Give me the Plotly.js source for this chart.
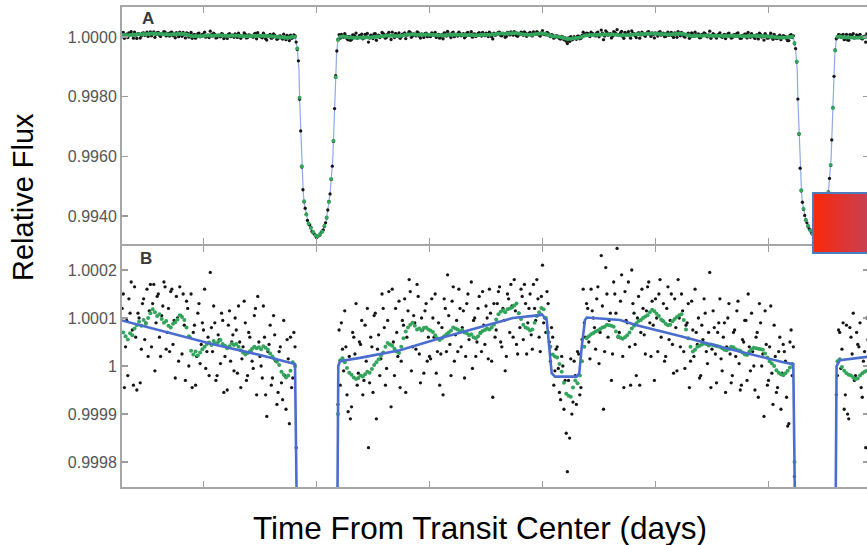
<!DOCTYPE html>
<html>
<head>
<meta charset="utf-8">
<script src="https://cdn.plot.ly/plotly-3.0.1.min.js"></script>
<style>
  html, body { margin: 0; padding: 0; overflow: hidden; background: #fff; }
  #chart { width: 869px; height: 545px; }
</style>
</head>
<body>
<div id="chart"></div>
<script>
// Kepler light curve of HAT-P-7b: (A) full transit view, (B) expanded phase-curve view.
// Flux values are stored as parts-per-million offsets from 1.

// cadence times on the 0.01-day grid
const blackTime = [
-0.86,-0.85,-0.84,-0.83,-0.82,-0.81,-0.80,-0.79,-0.78,-0.77,
-0.76,-0.75,-0.74,-0.73,-0.72,-0.71,-0.70,-0.69,-0.68,-0.67,
-0.66,-0.65,-0.64,-0.63,-0.62,-0.61,-0.60,-0.59,-0.58,-0.57,
-0.56,-0.55,-0.54,-0.53,-0.52,-0.51,-0.50,-0.49,-0.48,-0.47,
-0.46,-0.45,-0.44,-0.43,-0.42,-0.41,-0.40,-0.39,-0.38,-0.37,
-0.36,-0.35,-0.34,-0.33,-0.32,-0.31,-0.30,-0.29,-0.28,-0.27,
-0.26,-0.25,-0.24,-0.23,-0.22,-0.21,-0.20,-0.19,-0.18,-0.17,
-0.16,-0.15,-0.14,-0.13,-0.12,-0.11,-0.10,-0.09,-0.08,-0.07,
-0.06,-0.05,-0.04,-0.03,-0.02,-0.01,0.00,0.01,0.02,0.03,
0.04,0.05,0.06,0.07,0.08,0.09,0.10,0.11,0.12,0.13,
0.14,0.15,0.16,0.17,0.18,0.19,0.20,0.21,0.22,0.23,
0.24,0.25,0.26,0.27,0.28,0.29,0.30,0.31,0.32,0.33,
0.34,0.35,0.36,0.37,0.38,0.39,0.40,0.41,0.42,0.43,
0.44,0.45,0.46,0.47,0.48,0.49,0.50,0.51,0.52,0.53,
0.54,0.55,0.56,0.57,0.58,0.59,0.60,0.61,0.62,0.63,
0.64,0.65,0.66,0.67,0.68,0.69,0.70,0.71,0.72,0.73,
0.74,0.75,0.76,0.77,0.78,0.79,0.80,0.81,0.82,0.83,
0.84,0.85,0.86,0.87,0.88,0.89,0.90,0.91,0.92,0.93,
0.94,0.95,0.96,0.97,0.98,0.99,1.00,1.01,1.02,1.03,
1.04,1.05,1.06,1.07,1.08,1.09,1.10,1.11,1.12,1.13,
1.14,1.15,1.16,1.17,1.18,1.19,1.20,1.21,1.22,1.23,
1.24,1.25,1.26,1.27,1.28,1.29,1.30,1.31,1.32,1.33,
1.34,1.35,1.36,1.37,1.38,1.39,1.40,1.41,1.42,1.43,
1.44,1.45,1.46,1.47,1.48,1.49,1.50,1.51,1.52,1.53,
1.54,1.55,1.56,1.57,1.58,1.59,1.60,1.61,1.62,1.63,
1.64,1.65,1.66,1.67,1.68,1.69,1.70,1.71,1.72,1.73,
1.74,1.75,1.76,1.77,1.78,1.79,1.80,1.81,1.82,1.83,
1.84,1.85,1.86,1.87,1.88,1.89,1.90,1.91,1.92,1.93,
1.94,1.95,1.96,1.97,1.98,1.99,2.00,2.01,2.02,2.03,
2.04,2.05,2.06,2.07,2.08,2.09,2.10,2.11,2.12,2.13,
2.14,2.15,2.16,2.17,2.18,2.19,2.20,2.21,2.22,2.23,
2.24,2.25,2.26,2.27,2.28,2.29,2.30,2.31,2.32,2.33,
2.34,2.35,2.36,2.37,2.38,2.39,2.40,2.41,2.42,2.43,
2.44
];

const blackPpm = [
120,-45,95,140,175,-40,60,110,-35,130,
55,160,115,40,170,90,150,20,125,165,
70,30,160,95,145,10,105,150,-30,120,
60,-45,85,20,130,45,75,-5,60,195,
30,90,-20,55,110,-55,40,85,10,65,
100,-15,50,15,135,-30,70,30,-5,120,
145,20,-25,60,-105,45,-40,105,10,-55,
40,-70,-20,55,-120,-45,70,-170,-800,-3150,
-5120,-5740,-6150,-6300,-6520,-6600,-6720,-6660,-6560,-6470,
-6230,-5800,-5260,-4330,-2400,-470,75,90,-10,40,
-95,-110,70,25,-40,50,95,-30,10,-170,
60,-55,110,35,-20,150,80,-5,155,-85,
50,120,20,-45,95,140,60,180,-10,105,
35,145,-35,75,115,10,20,140,60,-15,
90,25,-60,120,190,45,135,10,95,160,
40,115,20,150,65,-5,100,50,145,30,
85,125,15,110,-65,60,130,165,40,95,
20,140,170,60,115,25,80,145,170,25,
120,65,170,95,140,30,210,100,155,50,
80,-40,35,-5,-70,0,-30,-220,-150,-100,
10,-80,25,-45,160,60,120,15,115,80,
140,5,230,-90,205,60,110,25,150,245,
70,190,-45,95,175,-40,130,45,100,-40,
160,65,115,175,20,85,140,30,180,95,
10,120,55,150,-15,80,180,40,115,-5,
90,-45,135,20,70,100,-20,55,110,5,
195,35,80,-35,90,15,60,-55,100,25,
-20,75,115,5,-40,50,95,150,-10,30,
-50,70,130,0,-105,45,-30,125,-80,20,
-45,60,-15,30,-65,-120,75,40,-390,-2080,
-4400,-5540,-5980,-6230,-6430,-6560,-6660,-6690,-6600,-6520,
-6350,-6020,-5520,-4740,-3450,-1320,-60,75,-5,90,
-60,-100,80,25,-30,70,40,-45,10,-170,
55
];

// cadence times offset by half a step; shared by the binned (green) curve
const offsetTime = [
-0.855,-0.845,-0.835,-0.825,-0.815,-0.805,-0.795,-0.785,-0.775,-0.765,
-0.755,-0.745,-0.735,-0.725,-0.715,-0.705,-0.695,-0.685,-0.675,-0.665,
-0.655,-0.645,-0.635,-0.625,-0.615,-0.605,-0.595,-0.585,-0.575,-0.565,
-0.555,-0.545,-0.535,-0.525,-0.515,-0.505,-0.495,-0.485,-0.475,-0.465,
-0.455,-0.445,-0.435,-0.425,-0.415,-0.405,-0.395,-0.385,-0.375,-0.365,
-0.355,-0.345,-0.335,-0.325,-0.315,-0.305,-0.295,-0.285,-0.275,-0.265,
-0.255,-0.245,-0.235,-0.225,-0.215,-0.205,-0.195,-0.185,-0.175,-0.165,
-0.155,-0.145,-0.135,-0.125,-0.115,-0.105,-0.095,-0.085,-0.075,-0.065,
-0.055,-0.045,-0.035,-0.025,-0.015,-0.005,0.005,0.015,0.025,0.035,
0.045,0.055,0.065,0.075,0.085,0.095,0.105,0.115,0.125,0.135,
0.145,0.155,0.165,0.175,0.185,0.195,0.205,0.215,0.225,0.235,
0.245,0.255,0.265,0.275,0.285,0.295,0.305,0.315,0.325,0.335,
0.345,0.355,0.365,0.375,0.385,0.395,0.405,0.415,0.425,0.435,
0.445,0.455,0.465,0.475,0.485,0.495,0.505,0.515,0.525,0.535,
0.545,0.555,0.565,0.575,0.585,0.595,0.605,0.615,0.625,0.635,
0.645,0.655,0.665,0.675,0.685,0.695,0.705,0.715,0.725,0.735,
0.745,0.755,0.765,0.775,0.785,0.795,0.805,0.815,0.825,0.835,
0.845,0.855,0.865,0.875,0.885,0.895,0.905,0.915,0.925,0.935,
0.945,0.955,0.965,0.975,0.985,0.995,1.005,1.015,1.025,1.035,
1.045,1.055,1.065,1.075,1.085,1.095,1.105,1.115,1.125,1.135,
1.145,1.155,1.165,1.175,1.185,1.195,1.205,1.215,1.225,1.235,
1.245,1.255,1.265,1.275,1.285,1.295,1.305,1.315,1.325,1.335,
1.345,1.355,1.365,1.375,1.385,1.395,1.405,1.415,1.425,1.435,
1.445,1.455,1.465,1.475,1.485,1.495,1.505,1.515,1.525,1.535,
1.545,1.555,1.565,1.575,1.585,1.595,1.605,1.615,1.625,1.635,
1.645,1.655,1.665,1.675,1.685,1.695,1.705,1.715,1.725,1.735,
1.745,1.755,1.765,1.775,1.785,1.795,1.805,1.815,1.825,1.835,
1.845,1.855,1.865,1.875,1.885,1.895,1.905,1.915,1.925,1.935,
1.945,1.955,1.965,1.975,1.985,1.995,2.005,2.015,2.025,2.035,
2.045,2.055,2.065,2.075,2.085,2.095,2.105,2.115,2.125,2.135,
2.145,2.155,2.165,2.175,2.185,2.195,2.205,2.215,2.225,2.235,
2.245,2.255,2.265,2.275,2.285,2.295,2.305,2.315,2.325,2.335,
2.345,2.355,2.365,2.375,2.385,2.395,2.405,2.415,2.425,2.435
];

const blackOffsetPpm = [
150,40,-20,110,75,165,-50,100,35,140,
90,20,170,130,-10,145,60,105,175,35,
120,155,45,-25,100,165,25,85,135,0,
150,70,-40,110,5,90,160,30,-20,80,
125,-30,65,5,95,20,-50,115,50,-10,
75,125,-45,40,90,-20,60,10,105,-60,
50,0,125,-60,30,85,-25,65,-80,30,
-35,95,-90,15,60,-25,40,-420,-2090,-4360,
-5530,-5940,-6270,-6380,-6560,-6640,-6690,-6640,-6510,-6350,
-6070,-5510,-4780,-3500,-1300,-80,-40,35,115,-60,
20,-85,60,130,-15,45,-60,85,120,-35,
40,105,-110,65,15,120,-40,95,45,160,
-20,70,135,10,85,-55,115,155,40,90,
170,25,100,-15,130,60,15,100,150,30,
-40,80,140,30,105,-20,165,65,30,120,
80,-25,130,55,175,95,20,120,70,155,
45,100,160,10,130,75,155,50,120,-10,
150,70,125,180,45,110,160,55,130,90,
150,35,120,180,60,145,90,70,130,10,
60,-10,40,-55,20,-90,-140,-30,15,-75,
-20,30,-60,55,90,130,50,160,100,35,
165,70,125,30,150,95,-30,175,110,60,
135,20,155,90,40,200,110,-20,145,70,
120,25,165,90,135,-30,100,150,60,130,
20,165,95,45,140,-10,100,150,30,85,
130,10,75,160,45,-25,85,140,30,70,
-45,115,25,70,140,-10,90,40,130,-35,
70,20,135,-50,55,95,-30,40,110,0,
60,-65,90,25,115,-40,40,-15,85,-55,
30,-90,45,10,-125,50,-20,-230,-840,-3260,
-5160,-5780,-6120,-6350,-6470,-6610,-6690,-6660,-6560,-6420,
-6250,-5800,-5190,-4310,-2360,-430,-20,70,35,-90,
85,-110,60,110,-20,45,90,-65,30,100
];

// binned (green) curve on the offset times
const greenPpm = [
70,62,55,68,64,78,85,92,84,96,
88,100,110,118,112,104,108,98,90,94,
84,80,88,91,97,106,102,96,80,62,
32,24,30,22,28,35,40,46,49,44,
52,47,50,54,46,42,37,41,47,44,
46,40,33,28,24,27,31,36,40,37,
39,35,41,38,34,26,20,14,9,2,
-12,-18,-24,-20,-10,8,0,-390,-2040,-4330,
-5510,-5950,-6250,-6400,-6540,-6650,-6680,-6620,-6530,-6330,
-6050,-5530,-4760,-3480,-1350,-100,12,16,8,-4,
-14,-18,-24,-27,-25,-20,-22,-17,-12,-14,
-6,2,8,14,22,28,40,48,45,42,
36,30,27,40,58,72,80,86,90,84,
76,78,74,79,80,76,74,71,64,58,
54,58,62,66,70,74,80,78,76,72,
75,70,68,64,66,60,58,62,68,73,
75,78,76,80,86,97,108,113,116,112,
118,120,122,126,130,110,98,86,80,78,
74,76,90,104,112,121,118,100,70,40,
24,20,18,4,-12,-35,-58,-62,-64,-45,
-30,-36,-20,10,40,58,62,66,69,72,
74,77,80,82,86,85,84,82,72,62,
59,57,60,64,70,78,84,89,94,96,
100,103,106,112,117,114,109,104,97,93,
88,85,86,93,98,102,106,108,96,76,
58,40,30,34,40,42,45,47,46,43,
45,44,42,41,40,37,34,33,36,40,
39,35,33,32,28,24,23,30,35,38,
37,36,35,34,26,18,10,5,0,-9,
-14,-17,-19,-15,-10,-3,4,-200,-820,-3240,
-5140,-5760,-6140,-6330,-6490,-6600,-6710,-6650,-6580,-6440,
-6230,-5780,-5210,-4290,-2380,-450,10,14,-2,-10,
-15,-18,-20,-24,-27,-26,-20,-15,-12,-10
];

// Model: phase curve + two transits + secondary eclipse
const modelTime = [
-0.861,-0.471,-0.250,-0.103,-0.095,
-0.085,-0.0805,-0.0774,-0.0748,-0.0628,-0.0584,-0.054,-0.0465,-0.0376,-0.0212,0,
0.024,0.042,0.052,0.060,0.067,0.072,0.082,0.086,0.089,0.0965,
0.104,0.192,0.369,0.546,0.869,0.989,0.9965,
1.0186,1.0332,1.0407,1.0553,1.1513,1.1628,1.1735,1.1881,1.1956,
1.343,1.417,1.612,1.786,2.065,2.1097,
2.1197,2.1242,2.1273,2.1299,2.1419,2.1463,2.1507,2.1582,2.1671,2.1835,2.2047,
2.2287,2.2467,2.2567,2.2647,2.2717,2.2767,2.2867,2.2907,2.2937,2.3012,
2.316,2.436,2.4447
];
const modelPpm = [
95,47,23,6,4,
-390,-715,-1115,-2060,-4860,-5240,-5580,-5910,-6200,-6470,-6700,
-6560,-6200,-5690,-5240,-4580,-4130,-2010,-1115,-550,0,
10,17,33,58,100,106,108,
96,27,-15,-22,-22,-15,40,96,101,
96,85,62,40,8,4,
-390,-715,-1115,-2060,-4860,-5240,-5580,-5910,-6200,-6470,-6700,
-6560,-6200,-5690,-5240,-4580,-4130,-2010,-1115,-550,0,
12,19,20
];

const timeTicks = [-0.5, 0, 0.5, 1, 1.5, 2];
const panelATicks = [0.994, 0.996, 0.998, 1.0];
const panelALabels = ['0.9940', '0.9960', '0.9980', '1.0000'];
const panelBTicks = [0.9998, 0.9999, 1, 1.0001, 1.0002];
const panelBLabels = ['0.9998', '0.9999', '1', '1.0001', '1.0002'];

const toFlux = ppm => 1 + ppm * 1e-6;
const allBlackTime = blackTime.concat(offsetTime);
const allBlackFlux = blackPpm.concat(blackOffsetPpm).map(toFlux);
const greenFlux = greenPpm.map(toFlux);
const modelFlux = modelPpm.map(toFlux);

const FONT = '"Liberation Sans", Arial, Helvetica, sans-serif';

// plot-area geometry in page pixels
const box = { left: 122, right: 869, top: 7, bottom: 487 };
const paperX = px => (px - box.left) / (box.right - box.left);
const paperY = py => (box.bottom - py) / (box.bottom - box.top);
// the two panels leave a 2px gap so their shared border lines coincide
const panelABottom = paperY(244);
const panelBTop = paperY(246);

const blackDot = { color: '#151515', size: 3.3 };
const greenDot = { color: '#33a55c', size: 4 };

const traces = [
  // panel A
  { x: modelTime, y: modelFlux, xaxis: 'x2', yaxis: 'y2', mode: 'lines',
    line: { color: '#8fa9e6', width: 1.2 } },
  { x: allBlackTime, y: allBlackFlux, xaxis: 'x2', yaxis: 'y2', mode: 'markers',
    marker: blackDot },
  { x: offsetTime, y: greenFlux, xaxis: 'x2', yaxis: 'y2', mode: 'markers',
    marker: greenDot },
  // panel B
  { x: allBlackTime, y: allBlackFlux, xaxis: 'x', yaxis: 'y', mode: 'markers',
    marker: blackDot },
  { x: offsetTime, y: greenFlux, xaxis: 'x', yaxis: 'y', mode: 'markers',
    marker: greenDot },
  { x: modelTime, y: modelFlux, xaxis: 'x', yaxis: 'y', mode: 'lines',
    line: { color: '#4a6dcf', width: 2.6 } }
];

const axisStyle = {
  showline: true, linecolor: '#a6a6a6', linewidth: 2, mirror: 'ticks',
  ticks: 'inside', ticklen: 6, tickwidth: 1.5, tickcolor: '#9c9c9c',
  showgrid: false, zeroline: false,
  tickfont: { family: FONT, size: 16, color: '#555' }
};
const timeRange = [-0.8606, 2.4447];

// overlay box with horizontal red gradient
const shapes = [];
const boxL = 813, boxR = 880, boxT = 193, boxB = 253;
const cLeft = [247, 41, 12], cRight = [201, 64, 82];
const strips = 16;
for (let i = 0; i < strips; i++) {
  const f = i / (strips - 1);
  const c = cLeft.map((v, k) => Math.round(v + (cRight[k] - v) * f));
  const x0 = boxL + (869 - boxL) * i / strips;
  const x1 = boxL + (869 - boxL) * (i + 1) / strips + 0.6;
  shapes.push({ type: 'rect', xref: 'paper', yref: 'paper',
    x0: paperX(x0), x1: paperX(i === strips - 1 ? boxR : x1),
    y0: paperY(boxB), y1: paperY(boxT),
    line: { width: 0 }, fillcolor: `rgb(${c[0]},${c[1]},${c[2]})` });
}
shapes.push({ type: 'rect', xref: 'paper', yref: 'paper',
  x0: paperX(boxL), x1: paperX(boxR), y0: paperY(boxB), y1: paperY(boxT),
  line: { color: '#4b7dbf', width: 2 }, fillcolor: 'rgba(0,0,0,0)' });

const annotations = [
  { text: '<b>A</b>', xref: 'paper', yref: 'paper', x: paperX(148), y: paperY(18),
    xanchor: 'center', yanchor: 'middle', showarrow: false,
    font: { family: FONT, size: 17, color: '#3a3a3a' } },
  { text: '<b>B</b>', xref: 'paper', yref: 'paper', x: paperX(146), y: paperY(258),
    xanchor: 'center', yanchor: 'middle', showarrow: false,
    font: { family: FONT, size: 17, color: '#3a3a3a' } },
  { text: 'Relative Flux', xref: 'paper', yref: 'paper', x: paperX(23), y: paperY(197),
    xanchor: 'center', yanchor: 'middle', textangle: -90, showarrow: false,
    font: { family: FONT, size: 29, color: '#000' } },
  { text: 'Time From Transit Center (days)', xref: 'paper', yref: 'paper',
    x: paperX(480), y: paperY(528), xanchor: 'center', yanchor: 'middle',
    showarrow: false, font: { family: FONT, size: 31.5, color: '#000' } }
];

const layout = {
  width: 869, height: 545, autosize: false,
  margin: { l: box.left, r: 0, t: box.top, b: 545 - box.bottom, pad: 0 },
  paper_bgcolor: '#fff', plot_bgcolor: '#fff', showlegend: false,
  font: { family: FONT },
  xaxis: Object.assign({}, axisStyle, { domain: [0, 1], anchor: 'y', range: timeRange,
    tickvals: timeTicks, showticklabels: false }),
  xaxis2: Object.assign({}, axisStyle, { domain: [0, 1], anchor: 'y2', range: timeRange,
    tickvals: timeTicks, showticklabels: false }),
  yaxis: Object.assign({}, axisStyle, { domain: [0, panelBTop], anchor: 'x',
    range: [0.999748, 1.00025], tickvals: panelBTicks, ticktext: panelBLabels }),
  yaxis2: Object.assign({}, axisStyle, { domain: [panelABottom, 1], anchor: 'x2',
    range: [0.993061, 1.001005], tickvals: panelATicks, ticktext: panelALabels }),
  shapes: shapes,
  annotations: annotations
};

Plotly.newPlot('chart', traces, layout, { staticPlot: true, displayModeBar: false });
</script>
</body>
</html>
